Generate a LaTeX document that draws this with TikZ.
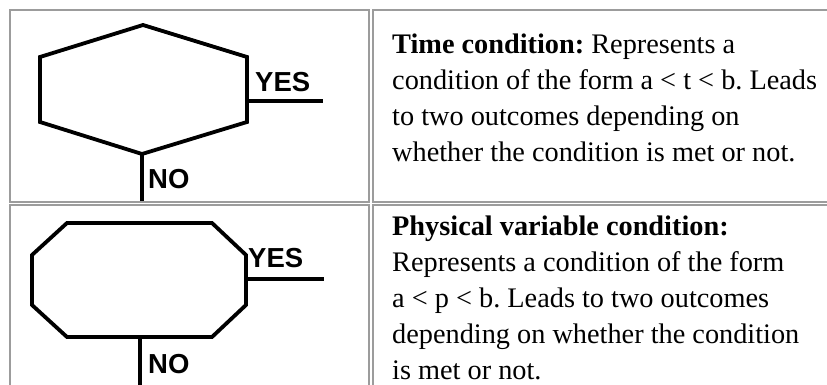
\documentclass[tikz,border=0pt]{standalone}
\usepackage{fontspec}
\setmainfont{Liberation Serif}
\newfontfamily\labelfont{Liberation Sans}
\usepackage{xcolor}
\usepackage{tikz}
\usetikzlibrary{calc}
\frenchspacing
\definecolor{cellGrey}{HTML}{9C9C9C}
\definecolor{shapeBlack}{HTML}{000000}
\tikzset{
  cellbox/.style={draw=cellGrey, line width=2pt},
  condshape/.style={draw=shapeBlack, line width=3.8pt, line join=miter},
  outline/.style={draw=shapeBlack, line width=3.8pt},
  answer/.style={font=\labelfont\bfseries\fontsize{27.5}{27.5}\selectfont, anchor=base west, inner sep=0pt},
  desctext/.style={font=\fontsize{28.3}{36}\selectfont, align=left, anchor=base west, inner sep=0pt},
}

\begin{document}
\begin{tikzpicture}[x=1pt,y=-1pt]
  \useasboundingbox (0,0) rectangle (827,385);
  \fill[white] (0,0) rectangle (827,385);

  % --- table cells ---
  \draw[cellbox] (10,10) rectangle (369,202);
  \draw[cellbox] (372.5,10) rectangle (840,202);
  \draw[cellbox] (10,204.5) rectangle (369,400);
  \draw[cellbox] (372.5,204.5) rectangle (840,400);

  % --- time condition (hexagon) ---
  \draw[condshape] (143,25) -- (247,57) -- (247,122) -- (142,154) -- (40,122) -- (40,57) -- cycle;
  \coordinate (hexYes) at (247,101);
  \coordinate (hexYesEnd) at (323,101);
  \coordinate (hexNo) at (142,154);
  \coordinate (hexNoEnd) at (142,201);
  \draw[outline] (hexYes) -- (hexYesEnd);
  \draw[outline] (hexNo) -- (hexNoEnd);
  \node[answer] (hexYesLbl) at (255,92) {YES};
  \node[answer] (hexNoLbl) at (148,188) {NO};

  % base anchor sits on the last line
  \node[desctext] (timeDesc) at (392,161) {\textbf{Time condition:} Represents a\\condition of the form a < t < b. Leads\\to two outcomes depending on\\whether the condition is met or not.};

  % --- physical variable condition (octagon) ---
  \draw[condshape] (67,223) -- (212,223) -- (246,255) -- (246,305) -- (212,337) -- (67,337) -- (32,305) -- (32,255) -- cycle;
  \coordinate (octYes) at (246,279);
  \coordinate (octYesEnd) at (324,279);
  \coordinate (octNo) at (140,337);
  \coordinate (octNoEnd) at (140,386);
  \draw[outline] (octYes) -- (octYesEnd);
  \draw[outline] (octNo) -- (octNoEnd);
  \node[answer] (octYesLbl) at (248,267) {YES};
  \node[answer] (octNoLbl) at (148,373) {NO};

  \node[desctext] (physDesc) at (392,379) {\textbf{Physical variable condition:}\\Represents a condition of the form\\a < p < b. Leads to two outcomes\\depending on whether the condition\\is met or not.};
\end{tikzpicture}
\end{document}
